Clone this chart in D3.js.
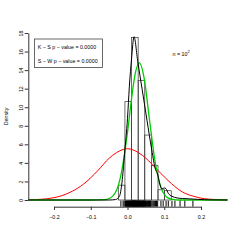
<!DOCTYPE html>
<html>
<head>
<meta charset="utf-8">
<script src="https://cdn.jsdelivr.net/npm/d3@7"></script>
<style>
  body { margin: 0; background: #fff; }
  svg { display: block; font-family: "Liberation Sans", Arial, sans-serif; }
</style>
</head>
<body>
<div class="chart"></div>
<script>
// histogram (density scale)
const histBreaks = [-0.025, -0.007, 0.011, 0.029, 0.047, 0.065, 0.083, 0.101, 0.119];
const histDensity = [1.6, 10.6, 17.5, 12.9, 7.0, 3.7, 1.1, 1.0];

// kernel density (black)
const kdeX = [-0.27, -0.05, -0.032, -0.022, -0.015, -0.008, 0.0, 0.005, 0.011, 0.0177, 0.028, 0.04, 0.053, 0.066, 0.076, 0.082, 0.088, 0.094, 0.1, 0.105, 0.111, 0.121, 0.135, 0.15, 0.17, 0.19, 0.21, 0.23, 0.272];
const kdeY = [0, 0, 0.05, 0.4, 1.9, 5.0, 8.8, 12.2, 15.2, 17.6, 14.9, 11.9, 8.6, 5.4, 3.3, 2.8, 1.7, 1.2, 1.3, 1.2, 0.72, 0.4, 0.22, 0.16, 0.12, 0.07, 0.03, 0.01, 0];

// green fitted curve
const greenX = [-0.27, -0.1, -0.06, -0.04, -0.02, 0.0, 0.01, 0.02, 0.032, 0.045, 0.06, 0.075, 0.09, 0.11, 0.13, 0.15, 0.272];
const greenY = [0, 0, 0.05, 0.42, 2.3, 7.3, 10.6, 13.4, 14.8, 13.2, 8.6, 4.15, 1.47, 0.23, 0.02, 0, 0];

// red fitted curve
const redX = [-0.27, -0.25, -0.22, -0.2, -0.18, -0.15, -0.12, -0.1, -0.08, -0.05, -0.03, 0, 0.03, 0.05, 0.08, 0.1, 0.12, 0.15, 0.18, 0.2, 0.22, 0.25, 0.272];
const redY = [0.02, 0.05, 0.13, 0.25, 0.45, 0.95, 1.7, 2.4, 3.2, 4.5, 5.1, 5.53, 5.1, 4.5, 3.3, 2.5, 1.75, 0.85, 0.4, 0.2, 0.1, 0.04, 0.02];

// sample values for the rug
const rugValues = [-0.018, -0.012, -0.009,
  -0.006, -0.005, -0.004, -0.003, -0.002, -0.001, 0.000, 0.001, 0.002, 0.003, 0.004, 0.0045, 0.005, 0.006, 0.007, 0.008, 0.009, 0.0095, 0.010,
  0.0115, 0.012, 0.0125, 0.013, 0.0135, 0.014, 0.0145, 0.015, 0.0155, 0.016, 0.0165, 0.017, 0.0175, 0.018, 0.0185, 0.019, 0.0195, 0.020, 0.0205, 0.021, 0.0215, 0.022, 0.023, 0.0235, 0.024, 0.025, 0.0255, 0.026, 0.027, 0.0275, 0.028, 0.0285,
  0.0295, 0.030, 0.031, 0.0315, 0.032, 0.033, 0.034, 0.035, 0.0355, 0.036, 0.037, 0.038, 0.039, 0.040, 0.041, 0.0415, 0.042, 0.043, 0.044, 0.0445, 0.045, 0.046, 0.0465,
  0.048, 0.049, 0.050, 0.052, 0.053, 0.055, 0.056, 0.057, 0.059, 0.060, 0.061, 0.063, 0.064,
  0.067, 0.070, 0.073, 0.076, 0.079, 0.082,
  0.091, 0.097, 0.105, 0.111, 0.121, 0.129, 0.143, 0.156, 0.178];

const xTicks = [-0.2, -0.1, 0.0, 0.1, 0.2];
const yTicks = [0, 2, 4, 6, 8, 10, 12, 14, 16, 18];
const legendLines = ["K \u2212 S  p \u2212 value = 0.0000", "S \u2212 W  p \u2212 value = 0.0000"];

const W = 242, H = 242;
const fs = 5.3;

const svg = d3.select('.chart').append('svg')
    .attr('width', W)
    .attr('height', H);

const xScale = d3.scaleLinear().domain([-0.2, 0.2]).range([54, 201]);
const yScale = d3.scaleLinear().domain([0, 18]).range([200, 33]);
const plotBottom = 206.7;

// histogram bars
svg.selectAll('rect.bar')
    .data(histDensity)
    .enter()
    .append('rect')
    .attr('class', 'bar')
    .attr('x', (d, i) => xScale(histBreaks[i]))
    .attr('width', (d, i) => xScale(histBreaks[i + 1]) - xScale(histBreaks[i]))
    .attr('y', d => yScale(d))
    .attr('height', d => yScale(0) - yScale(d))
    .attr('fill', 'none')
    .attr('stroke', '#333')
    .attr('stroke-width', 0.7);

const line = d3.line()
    .x(d => xScale(d[0]))
    .y(d => yScale(d[1]))
    .curve(d3.curveMonotoneX);

function drawCurve(xs, ys, color, w) {
    svg.append('path')
        .datum(xs.map((x, i) => [x, ys[i]]))
        .attr('d', line)
        .attr('fill', 'none')
        .attr('stroke', color)
        .attr('stroke-width', w);
}
drawCurve(redX, redY, '#ff0000', 1);
drawCurve(greenX, greenY, '#00cc00', 1.3);
drawCurve(kdeX, kdeY, '#000', 1);

// rug
svg.selectAll('line.rug')
    .data(rugValues)
    .enter()
    .append('line')
    .attr('class', 'rug')
    .attr('x1', d => xScale(d))
    .attr('x2', d => xScale(d))
    .attr('y1', plotBottom)
    .attr('y2', plotBottom - 6)
    .attr('stroke', '#000')
    .attr('stroke-width', 1);

// axes
const xAxis = d3.axisBottom(xScale)
    .tickValues(xTicks)
    .tickFormat(d3.format('.1f'))
    .tickSize(3.3)
    .tickSizeOuter(0)
    .tickPadding(5.5);

const yAxis = d3.axisLeft(yScale)
    .tickValues(yTicks)
    .tickSize(3.6)
    .tickSizeOuter(0);

const gx = svg.append('g')
    .attr('transform', `translate(0, ${plotBottom})`)
    .call(xAxis);
gx.attr('font-family', null);
gx.selectAll('text').attr('font-size', fs).attr('fill', '#000');
gx.selectAll('path, line').attr('stroke', '#333');

const gy = svg.append('g')
    .attr('transform', 'translate(28.3, 0)')
    .call(yAxis);
gy.attr('font-family', null);
gy.selectAll('path, line').attr('stroke', '#333');
gy.selectAll('text')
    .attr('font-size', fs)
    .attr('fill', '#000')
    .attr('text-anchor', 'middle')
    .attr('transform', 'rotate(-90)')
    .attr('x', 0)
    .attr('y', -5.6)
    .attr('dy', 0);

svg.append('text')
    .attr('transform', 'translate(7.5, 116.5) rotate(-90)')
    .attr('text-anchor', 'middle')
    .attr('font-size', fs)
    .text('Density');

// legend box
svg.append('rect')
    .attr('x', 34.5)
    .attr('y', 39)
    .attr('width', 68)
    .attr('height', 28.5)
    .attr('fill', '#fff')
    .attr('stroke', '#444')
    .attr('stroke-width', 0.8);

svg.selectAll('text.leg')
    .data(legendLines)
    .enter()
    .append('text')
    .attr('class', 'leg')
    .attr('x', 37.7)
    .attr('y', (d, i) => 48.5 + i * 14.3)
    .attr('font-size', fs)
    .text(d => d);

// sample size label
const nLab = svg.append('text')
    .attr('x', 172.5)
    .attr('y', 56)
    .attr('font-size', fs);
nLab.append('tspan').text('n = 10');
nLab.append('tspan').attr('font-size', 4).attr('dy', -2.6).text('2');
</script>
</body>
</html>
